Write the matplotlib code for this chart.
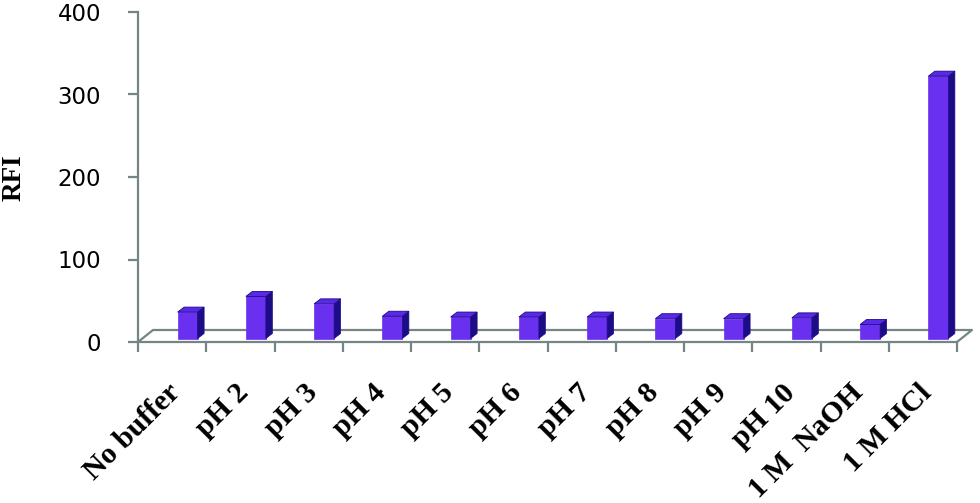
import matplotlib
matplotlib.use("Agg")
import matplotlib.pyplot as plt
from matplotlib.patches import Polygon
import numpy as np

categories = ["No buffer", "pH 2", "pH 3", "pH 4", "pH 5", "pH 6", "pH 7",
              "pH 8", "pH 9", "pH 10", "1 M  NaOH", "1 M HCl"]
rfi = [32, 51, 42, 27, 26, 26, 26, 24, 24, 25, 17, 318]
y_ticks = [0, 100, 200, 300, 400]

W, H = 980, 503
fig = plt.figure(figsize=(W / 100, H / 100), dpi=100)
# axes box in pixels: x 138..957, y 12..342
x0, x1, yt, yb = 138, 957, 12, 342
ax = fig.add_axes([x0 / W, (H - yb) / H, (x1 - x0) / W, (yb - yt) / H])
n = len(categories)
ax.set_xlim(-0.5, n - 0.5)
ax.set_ylim(0, 400)

px_x = (x1 - x0) / n          # pixels per category
px_y = (yb - yt) / 400.0      # pixels per unit

gray = "#758585"
front = "#6a30f0"
side = "#1c0c86"
top = "#5a28e6"

# bar geometry (pixels -> data)
bw = 20 / px_x
bleft = 5.5 / px_x
dx = 6.5 / px_x
dy = 5 / px_y
base = 3.5 / px_y

x = np.arange(n)
ax.bar(x + bleft, rfi, width=bw, bottom=base, align="edge", color=front,
       edgecolor=front, linewidth=0.5, zorder=3)
for xi, v in zip(x, rfi):
    l = xi + bleft
    r = l + bw
    t = base + v
    ax.add_patch(Polygon([[r, base], [r + dx, base + dy], [r + dx, t + dy], [r, t]],
                         closed=True, facecolor=side, edgecolor=side, lw=0.5, zorder=3))
    ax.add_patch(Polygon([[l, t], [l + dx, t + dy], [r + dx, t + dy], [r, t]],
                         closed=True, facecolor=top, edgecolor=side, lw=0.6, zorder=3))

# floor (back edge and side edges)
fdx = 15 / px_x
fdy = 12 / px_y
ax.plot([-0.5, -0.5 + fdx, n - 0.5 + fdx, n - 0.5], [0, fdy, fdy, 0],
        color=gray, lw=1.6, clip_on=False, zorder=2)

for s in ["top", "right"]:
    ax.spines[s].set_visible(False)
for s in ["left", "bottom"]:
    ax.spines[s].set_color(gray)
    ax.spines[s].set_linewidth(1.6)

ax.set_xticks(np.arange(n + 1) - 0.5)
ax.set_xticklabels([])
ax.tick_params(axis="x", length=7.5, width=1.6, color=gray)
ax.set_yticks(y_ticks)
ax.set_yticklabels([str(t) for t in y_ticks], fontfamily="DejaVu Sans", fontsize=16.5)
ax.tick_params(axis="y", length=7.5, width=1.6, color=gray, pad=19)

for xi, lab in zip(x, categories):
    ax.text(xi - 5 / px_x, -37 / px_y, lab, rotation=45, rotation_mode="anchor",
            ha="right", va="top", fontfamily="Liberation Serif",
            fontweight="bold", fontsize=21.5, clip_on=False)

fig.text(14 / W, (H - 178) / H, "RFI", rotation=90, ha="center", va="center",
         fontfamily="Liberation Serif", fontweight="bold", fontsize=19.5)

fig.savefig("out.png", dpi=100)
